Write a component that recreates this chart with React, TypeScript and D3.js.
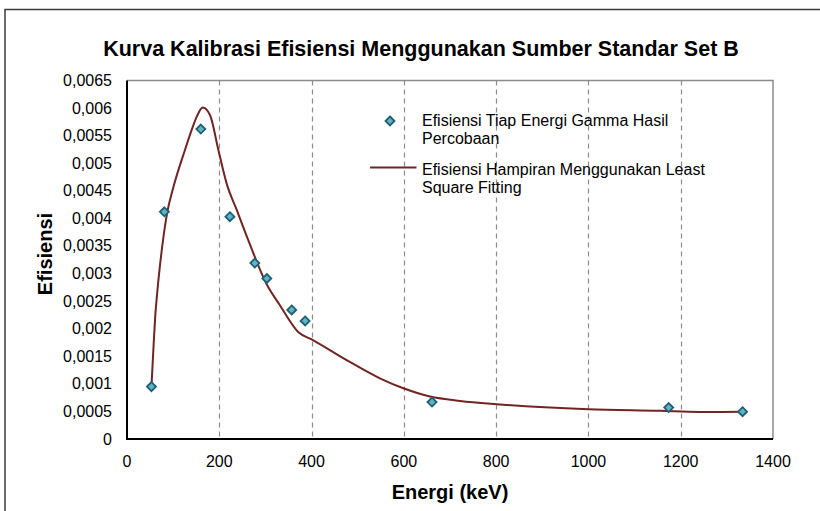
import React, { useEffect, useRef } from 'react'
import * as d3 from 'd3'

// measured points (energy in keV, efficiency)
const energies = [53, 81, 160, 223, 277, 303, 357, 386, 661, 1174, 1334]
const efficiencies = [0.00095, 0.00412, 0.00562, 0.00403, 0.00319, 0.00291, 0.00234, 0.00214, 0.00067, 0.00057, 0.000495]

// least square fitting curve
const fitEnergies = [53, 57, 61, 66, 75, 87, 100, 126, 140, 151, 164, 180, 198, 216, 238, 263, 303, 331, 371, 404, 476, 548, 599, 657, 722, 801, 1000, 1155, 1240, 1334]
const fitEfficiencies = [0.00095, 0.0016, 0.0022, 0.0027, 0.0034, 0.0041, 0.00455, 0.00525, 0.0056, 0.00584, 0.00601, 0.00587, 0.00524, 0.00463, 0.00415, 0.0036, 0.0028, 0.00243, 0.00194, 0.00179, 0.00143, 0.0011, 0.00092, 0.00077, 0.00069, 0.00063, 0.00054, 0.00051, 0.00049, 0.000495]

const xTicks = [0, 200, 400, 600, 800, 1000, 1200, 1400]
const yTicks = [0, 0.0005, 0.001, 0.0015, 0.002, 0.0025, 0.003, 0.0035, 0.004, 0.0045, 0.005, 0.0055, 0.006, 0.0065]

const legendLabels = [
  ['Efisiensi Tiap Energi Gamma Hasil', 'Percobaan'],
  ['Efisiensi Hampiran Menggunakan Least', 'Square Fitting']
]

const font = '"Liberation Sans", Arial, sans-serif'
const lineColor = '#722422'

export default function App() {
  const svgRef = useRef<SVGSVGElement>(null)

  useEffect(() => {
    if (!svgRef.current) return
    const width = 820
    const height = 511
    const plot = { left: 127, right: 773, top: 80.5, bottom: 439 }

    const svg = d3.select(svgRef.current)
    svg.selectAll('*').remove()

    svg.append('rect').attr('width', width).attr('height', height).attr('fill', '#fff')

    // outer chart border (only left and top visible)
    svg.append('path')
      .attr('d', `M5,${height + 5} L5,9.5 L${width + 5},9.5`)
      .attr('fill', 'none')
      .attr('stroke', '#3a3a3a')
      .attr('stroke-width', 1.5)

    const x = d3.scaleLinear().domain([0, 1400]).range([plot.left, plot.right])
    const y = d3.scaleLinear().domain([0, 0.0065]).range([plot.bottom, plot.top])

    // dashed vertical gridlines
    svg.append('g')
      .selectAll('line')
      .data(xTicks.filter(t => t > 0 && t < 1400))
      .join('line')
      .attr('x1', d => Math.round(x(d)) + 0.5)
      .attr('x2', d => Math.round(x(d)) + 0.5)
      .attr('y1', plot.top)
      .attr('y2', plot.bottom)
      .attr('stroke', '#8c8c8c')
      .attr('stroke-width', 1.2)
      .attr('stroke-dasharray', '5,4')

    // plot area top/right border
    svg.append('path')
      .attr('d', `M${plot.left},${plot.top} L${plot.right},${plot.top} L${plot.right},${plot.bottom}`)
      .attr('fill', 'none')
      .attr('stroke', '#8c8c8c')
      .attr('stroke-width', 1.5)

    // axes
    svg.append('path')
      .attr('d', `M${plot.left},${plot.top} L${plot.left},${plot.bottom} L${plot.right},${plot.bottom}`)
      .attr('fill', 'none')
      .attr('stroke', '#000')
      .attr('stroke-width', 2)

    const fmt = (v: number) => (v === 0 ? '0' : String(+v.toFixed(4)).replace('.', ','))

    svg.append('g')
      .selectAll('text')
      .data(yTicks)
      .join('text')
      .attr('x', 112)
      .attr('y', d => y(d) + 5.5)
      .attr('text-anchor', 'end')
      .attr('font-family', font)
      .attr('font-size', '16px')
      .attr('fill', '#000')
      .text(d => fmt(d))

    svg.append('g')
      .selectAll('text')
      .data(xTicks)
      .join('text')
      .attr('x', d => x(d))
      .attr('y', 467)
      .attr('text-anchor', 'middle')
      .attr('font-family', font)
      .attr('font-size', '16px')
      .attr('fill', '#000')
      .text(d => String(d))

    // fitted curve
    const line = d3.line<number>()
      .x(i => x(fitEnergies[i]))
      .y(i => y(fitEfficiencies[i]))
      .curve(d3.curveMonotoneX)

    svg.append('path')
      .attr('d', line(d3.range(fitEnergies.length)))
      .attr('fill', 'none')
      .attr('stroke', lineColor)
      .attr('stroke-width', 2)

    // measured markers
    const diamond = (cx: number, cy: number) => `M${cx},${cy - 4.5} L${cx + 4.5},${cy} L${cx},${cy + 4.5} L${cx - 4.5},${cy} Z`

    svg.append('g')
      .selectAll('path')
      .data(d3.range(energies.length))
      .join('path')
      .attr('d', i => diamond(x(energies[i]), y(efficiencies[i])))
      .attr('fill', '#5fb3c6')
      .attr('stroke', '#1f5f72')
      .attr('stroke-width', 1.8)

    // legend
    svg.append('path').attr('d', diamond(390, 121)).attr('fill', '#5fb3c6').attr('stroke', '#1f5f72').attr('stroke-width', 1.8)
    svg.append('line')
      .attr('x1', 370).attr('x2', 416.5).attr('y1', 167.5).attr('y2', 167.5)
      .attr('stroke', lineColor).attr('stroke-width', 2)

    legendLabels.forEach((lines, k) => {
      const t = svg.append('text')
        .attr('font-family', font)
        .attr('font-size', '16px')
        .attr('fill', '#000')
      lines.forEach((s, j) => {
        t.append('tspan')
          .attr('x', 422)
          .attr('y', 126 + k * 49 + j * 17.5)
          .text(s)
      })
    })

    // title and axis labels
    svg.append('text')
      .attr('x', 421)
      .attr('y', 56)
      .attr('text-anchor', 'middle')
      .attr('font-family', font)
      .attr('font-size', '21.5px')
      .attr('font-weight', 'bold')
      .text('Kurva Kalibrasi Efisiensi Menggunakan Sumber Standar Set B')

    svg.append('text')
      .attr('x', 450)
      .attr('y', 499)
      .attr('text-anchor', 'middle')
      .attr('font-family', font)
      .attr('font-size', '20px')
      .attr('font-weight', 'bold')
      .text('Energi (keV)')

    svg.append('text')
      .attr('transform', 'translate(52,254) rotate(-90)')
      .attr('text-anchor', 'middle')
      .attr('font-family', font)
      .attr('font-size', '20px')
      .attr('font-weight', 'bold')
      .text('Efisiensi')
  }, [])

  return (
    <svg
      ref={svgRef}
      width={820}
      height={511}
      style={{ position: 'absolute', left: 0, top: 0, display: 'block' }}
    />
  )
}
